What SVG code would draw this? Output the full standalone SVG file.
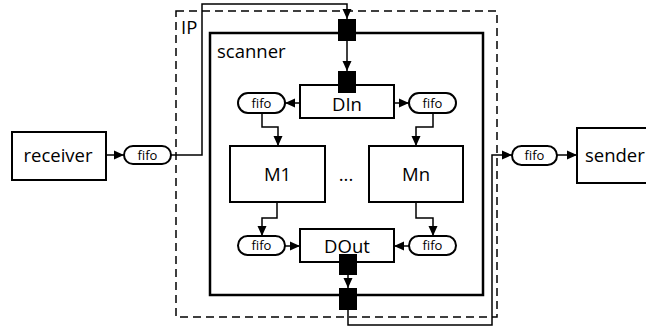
<svg xmlns="http://www.w3.org/2000/svg" width="646" height="329" viewBox="0 0 646 329">
<style>
.box{fill:#fff;stroke:#000;stroke-width:2}
.fifo{fill:#fff;stroke:#000;stroke-width:2}
.port{fill:#000;stroke:none}
.t{font-family:"Open Sans","Noto Sans",sans-serif;font-size:18.5px;fill:#000}
.ft{font-family:"Open Sans","Noto Sans",sans-serif;font-size:13px;fill:#000;text-anchor:middle}
.c{fill:none;stroke:#000;stroke-width:1.5}
</style>
<defs>
<marker id="ah" markerUnits="userSpaceOnUse" markerWidth="10" markerHeight="10" viewBox="0 0 10 10" refX="10" refY="5" orient="auto">
<path d="M0,0.5 L10,5 L0,9.5 Z" fill="#000"/>
</marker>
</defs>
<rect width="646" height="329" fill="#fff"/>
<g id="ip">
<rect x="176" y="11" width="321" height="306" fill="none" stroke="#000" stroke-width="1.5" stroke-dasharray="8,5"/>
<text class="t" x="181" y="34">IP</text>
</g>
<g id="scanner">
<rect x="210" y="33" width="273" height="262" fill="none" stroke="#000" stroke-width="2.5"/>
<text class="t" x="217" y="58">scanner</text>
</g>
<g id="receiver">
<rect class="box" x="12" y="132" width="94" height="48"/>
<text class="t" x="58" y="162" text-anchor="middle">receiver</text>
</g>
<g id="sender">
<rect class="box" x="577" y="128" width="90" height="55"/>
<text class="t" x="585" y="162">sender</text>
</g>
<g id="fifo-in">
<rect class="fifo" x="124" y="146" width="47" height="18" rx="9"/>
<text class="ft" x="147.5" y="159.5">fifo</text>
</g>
<g id="fifo-out">
<rect class="fifo" x="512" y="146" width="45" height="19" rx="9.5"/>
<text class="ft" x="534.5" y="160">fifo</text>
</g>
<g id="din">
<rect class="box" x="300" y="85" width="94" height="33"/>
<text class="t" x="347" y="111" text-anchor="middle">DIn</text>
</g>
<g id="dout">
<rect class="box" x="300" y="229" width="94" height="33"/>
<text class="t" x="347" y="252.5" text-anchor="middle">DOut</text>
</g>
<g id="m1">
<rect class="box" x="230" y="146" width="95" height="56"/>
<text class="t" x="277.5" y="181" text-anchor="middle">M1</text>
</g>
<g id="mn">
<rect class="box" x="369" y="146" width="94" height="56"/>
<text class="t" x="416" y="181" text-anchor="middle">Mn</text>
</g>
<g id="dots">
<text class="t" x="346" y="181" text-anchor="middle">...</text>
</g>
<g id="fifo-tl">
<rect class="fifo" x="238" y="93" width="47" height="20" rx="10"/>
<text class="ft" x="261.5" y="107.5">fifo</text>
</g>
<g id="fifo-tr">
<rect class="fifo" x="409" y="93" width="47" height="20" rx="10"/>
<text class="ft" x="432.5" y="107.5">fifo</text>
</g>
<g id="fifo-bl">
<rect class="fifo" x="238" y="236" width="47" height="19" rx="9.5"/>
<text class="ft" x="261.5" y="250">fifo</text>
</g>
<g id="fifo-br">
<rect class="fifo" x="409" y="236" width="47" height="19" rx="9.5"/>
<text class="ft" x="432.5" y="250">fifo</text>
</g>
<g id="ports">
<rect class="port" x="338" y="19" width="18" height="22"/>
<rect class="port" x="338" y="71" width="18" height="22"/>
<rect class="port" x="339" y="254" width="18" height="21"/>
<rect class="port" x="339" y="288" width="18" height="22"/>
</g>
<g id="connectors">
<path class="c" d="M106,155 H124" marker-end="url(#ah)"/>
<path class="c" d="M171,155 H202 V4 H347 V19" marker-end="url(#ah)"/>
<path class="c" d="M347,41 V71" marker-end="url(#ah)"/>
<path class="c" d="M300,103 H285" marker-end="url(#ah)"/>
<path class="c" d="M394,103 H409" marker-end="url(#ah)"/>
<path class="c" d="M262,113 V127 H278 V146" marker-end="url(#ah)"/>
<path class="c" d="M433,113 V127 H416 V146" marker-end="url(#ah)"/>
<path class="c" d="M277,202 V218 H262 V236" marker-end="url(#ah)"/>
<path class="c" d="M416,202 V218 H433 V236" marker-end="url(#ah)"/>
<path class="c" d="M285,246 H300" marker-end="url(#ah)"/>
<path class="c" d="M409,246 H394" marker-end="url(#ah)"/>
<path class="c" d="M348,275 V288" marker-end="url(#ah)"/>
<path class="c" d="M348,310 V325 H492 V155 H512" marker-end="url(#ah)"/>
<path class="c" d="M557,155 H577" marker-end="url(#ah)"/>
</g>
</svg>
